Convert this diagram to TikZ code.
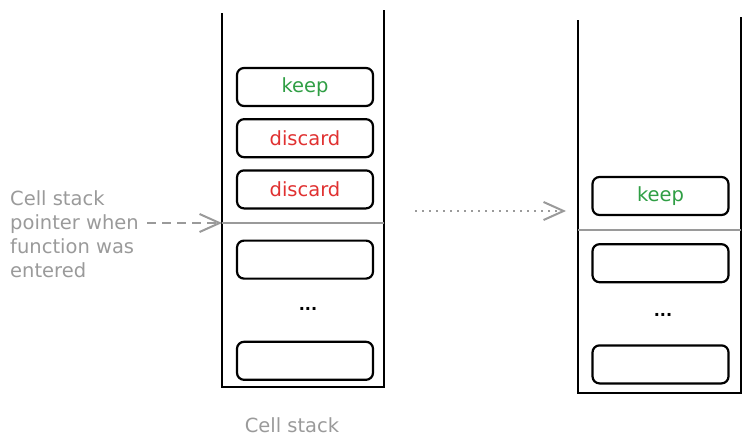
\documentclass[tikz,border=0pt]{standalone}
\usepackage{fontspec}
\setmainfont{DejaVu Sans}
\usetikzlibrary{positioning,arrows.meta}
\definecolor{keepgreen}{HTML}{2F9E44}
\definecolor{dropred}{HTML}{E03131}
\definecolor{notegray}{HTML}{9A9A9A}
\tikzset{
  cell/.style={draw, line width=2.2pt, rounded corners=7pt, minimum width=136pt, minimum height=38pt, font=\fontsize{19.5}{22}\selectfont},
  wall/.style={line width=2.5pt},
  sp line/.style={draw=notegray, line width=2.4pt},
  note/.style={text=notegray, inner sep=0pt, font=\fontsize{19.5}{24}\selectfont},
  note arrow/.style={draw=notegray, line width=2pt, -{Straight Barb[length=20pt,width=18pt,line width=2pt]}},
}

\begin{document}
\begin{tikzpicture}[x=1pt,y=-1pt]
	\useasboundingbox (0,0) rectangle (751,447);
	%% left stack
	\draw[wall] (222,13) -- (222,387) -- (384,387) -- (384,10);
	\draw[sp line] (222,223) coordinate (sp1) -- (384,223);
	\node[cell,text=keepgreen] (l1) at (305,87) {keep};
	\node[cell,text=dropred,below=11pt of l1] (l2) {discard};
	\node[cell,text=dropred,below=11pt of l2] (l3) {discard};
	\node[cell,below=30pt of l3] (l4) {};
	\node[font=\fontsize{16}{18}\selectfont\bfseries] (ldots) at (308,309) {...};
	\node[cell,below=61pt of l4] (l5) {};
	\node[note] (lcap) at (292,425) {Cell stack};
	% pointer note
	\node[note,anchor=north west,align=left] (ptr) at (10,190) {Cell stack\\pointer when\\function was\\entered};
	\coordinate (ptrtail) at (147,223);
	\draw[note arrow,dash pattern=on 9pt off 6pt] (ptrtail) -- (sp1);
	%% right stack
	\draw[wall] (578,20) -- (578,393) -- (741,393) -- (741,17);
	\draw[sp line] (578,230) -- (741,230);
	\node[cell,text=keepgreen] (r1) at (660.5,196) {keep};
	\node[cell,below=27pt of r1] (r2) {};
	\node[font=\fontsize{16}{18}\selectfont\bfseries] (rdots) at (663,315) {...};
	\node[cell,below=61pt of r2] (r3) {};
	% moving the kept cell
	\coordinate (movetail) at (415,211);
	\coordinate (movehead) at (566,211);
	\draw[note arrow,dash pattern=on 2pt off 5pt] (movetail) -- (movehead);
\end{tikzpicture}
\end{document}
